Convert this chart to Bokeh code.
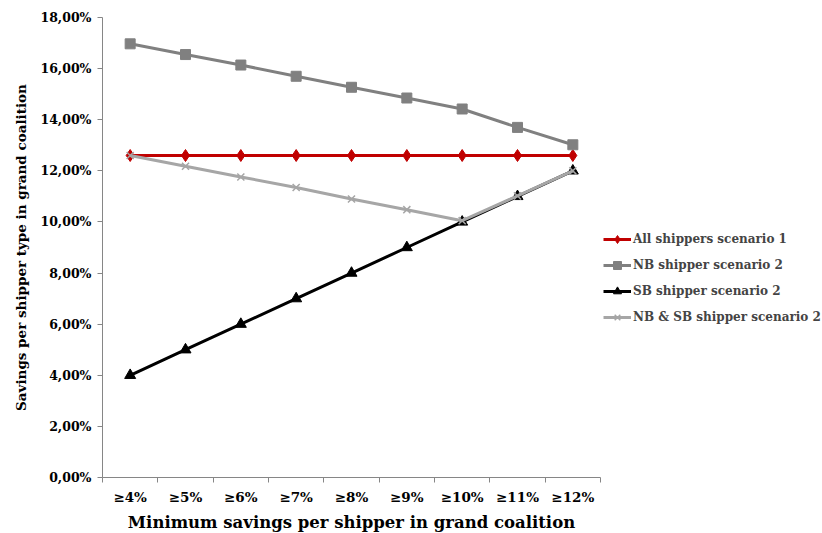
from bokeh.plotting import figure
from bokeh.models import FixedTicker, Legend, LegendItem, Range1d
from bokeh.embed import file_html
from bokeh.resources import INLINE

categories = ["≥4%", "≥5%", "≥6%", "≥7%", "≥8%", "≥9%", "≥10%", "≥11%", "≥12%"]
all_s1 = [12.6, 12.6, 12.6, 12.6, 12.6, 12.6, 12.6, 12.6, 12.6]
nb_s2 = [16.97, 16.55, 16.14, 15.7, 15.27, 14.85, 14.42, 13.7, 13.02]
sb_s2 = [4.0, 5.0, 6.0, 7.0, 8.0, 9.0, 10.0, 11.0, 12.0]
nbsb_s2 = [12.6, 12.18, 11.76, 11.35, 10.9, 10.48, 10.05, 11.02, 12.0]
y_ticks = [0, 2, 4, 6, 8, 10, 12, 14, 16, 18]

FONT = "DejaVu Serif"
AXIS_COLOR = "#868686"

xs = list(range(1, len(categories) + 1))

p = figure(frame_width=498, frame_height=460, output_backend="svg", toolbar_location=None,
           x_range=Range1d(0.5, len(categories) + 0.5), y_range=Range1d(0, 18),
           min_border_left=102, min_border_top=17, min_border_right=210, min_border_bottom=50)
p.outline_line_color = None
p.xgrid.grid_line_color = None
p.ygrid.grid_line_color = None

# x axis
p.xaxis.ticker = FixedTicker(ticks=xs, minor_ticks=[x - 0.5 for x in xs] + [len(xs) + 0.5])
p.xaxis.major_label_overrides = {x: c for x, c in zip(xs, categories)}
p.xaxis.major_tick_out = 0
p.xaxis.major_tick_in = 0
p.xaxis.minor_tick_out = 5
p.xaxis.minor_tick_in = 0
p.xaxis.minor_tick_line_color = AXIS_COLOR
p.xaxis.axis_line_color = AXIS_COLOR
p.xaxis.major_label_text_font = FONT
p.xaxis.major_label_text_font_style = "bold"
p.xaxis.major_label_text_font_size = "13.5px"
p.xaxis.major_label_text_color = "black"
p.xaxis.major_label_standoff = 6
p.xaxis.axis_label = "Minimum savings per shipper in grand coalition"
p.xaxis.axis_label_text_font = FONT
p.xaxis.axis_label_text_font_style = "bold"
p.xaxis.axis_label_text_font_size = "16.5px"
p.xaxis.axis_label_text_color = "black"
p.xaxis.axis_label_standoff = 5

# y axis
p.yaxis.ticker = FixedTicker(ticks=y_ticks)
p.yaxis.major_label_overrides = {t: f"{t:.2f}%".replace(".", ",") for t in y_ticks}
p.yaxis.minor_tick_line_color = None
p.yaxis.major_tick_out = 5
p.yaxis.major_tick_in = 0
p.yaxis.major_tick_line_color = AXIS_COLOR
p.yaxis.axis_line_color = AXIS_COLOR
p.yaxis.major_label_text_font = FONT
p.yaxis.major_label_text_font_style = "bold"
p.yaxis.major_label_text_font_size = "12.5px"
p.yaxis.major_label_text_color = "black"
p.yaxis.major_label_standoff = 6
p.yaxis.axis_label = "Savings per shipper type in grand coalition"
p.yaxis.axis_label_text_font = FONT
p.yaxis.axis_label_text_font_style = "bold"
p.yaxis.axis_label_text_font_size = "13.5px"
p.yaxis.axis_label_text_color = "black"
p.yaxis.axis_label_standoff = 8

RED = "#C00000"
GRAY = "#808080"
LGRAY = "#A6A6A6"

l1 = p.line(xs, all_s1, line_color=RED, line_width=3)
m1 = p.scatter(xs, all_s1, marker="diamond", size=12, fill_color=RED, line_color=RED)
l2 = p.line(xs, nb_s2, line_color=GRAY, line_width=3)
m2 = p.scatter(xs, nb_s2, marker="square", size=10, fill_color=GRAY, line_color=GRAY)
l3 = p.line(xs, sb_s2, line_color="black", line_width=3)
m3 = p.scatter(xs, sb_s2, marker="triangle", size=11, fill_color="black", line_color="black")
l4 = p.line(xs, nbsb_s2, line_color=LGRAY, line_width=3)
m4 = p.scatter(xs, nbsb_s2, marker="x", size=10, line_color=LGRAY, line_width=1.5)

legend = Legend(items=[
    LegendItem(label="All shippers scenario 1", renderers=[l1, m1]),
    LegendItem(label="NB shipper scenario 2", renderers=[l2, m2]),
    LegendItem(label="SB shipper scenario 2", renderers=[l3, m3]),
    LegendItem(label="NB & SB shipper scenario 2", renderers=[l4, m4]),
], location=(3, 150))
legend.border_line_color = None
legend.background_fill_alpha = 0
legend.padding = 0
legend.margin = 0
legend.spacing = 6
legend.glyph_width = 28
legend.glyph_height = 20
legend.label_standoff = 2
legend.label_text_font = FONT
legend.label_text_font_style = "bold"
legend.label_text_font_size = "12px"
legend.label_height = 20
p.add_layout(legend, "right")

open("out.html", "w").write(file_html(p, INLINE))
